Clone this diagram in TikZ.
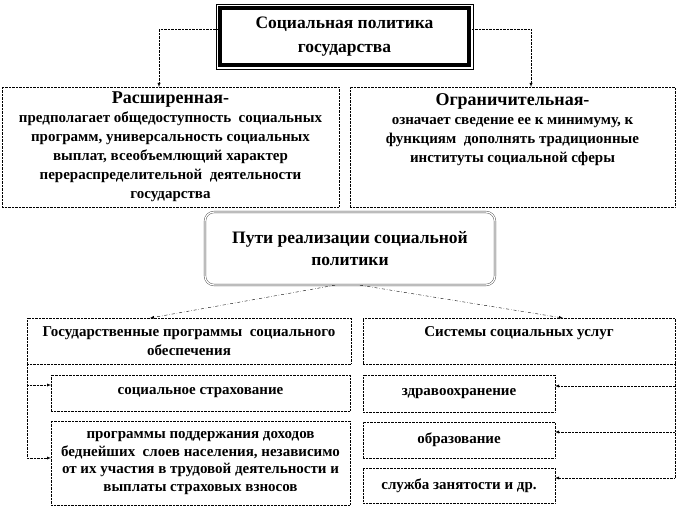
\documentclass[tikz,border=0pt]{standalone}
\usepackage{fontspec}
\setmainfont{Liberation Serif}
\usetikzlibrary{shapes,arrows,positioning,calc}

\tikzset{
  box/.style={draw, densely dotted, align=center, inner sep=2pt, outer sep=0pt,
    font=\bfseries\fontsize{15}{18.5}\selectfont},
  link/.style={densely dotted, -latex},
}

\begin{document}
\begin{tikzpicture}[x=1pt, y=-1pt]
  \useasboundingbox (0,0) rectangle (678,508);

  % State social policy
  \node[draw, line width=4pt, outer sep=0pt, align=center, minimum width=249pt, minimum height=57pt,
    font=\bfseries\fontsize{17.5}{24}\selectfont] (title) at (344.5,36.5)
    {Социальная политика\\государства};
  \draw[thin] ($(title.north west)+(-4pt,4pt)$) rectangle ($(title.south east)+(4pt,-4pt)$);

  % Two kinds
  \node[box, minimum width=337pt, minimum height=120pt, font=\bfseries\fontsize{15}{19}\selectfont]
    (wide) at (170.5,147)
    {{\fontsize{18}{20}\selectfont Расширенная-}\\
     предполагает общедоступность\ \ социальных\\
     программ, универсальность социальных\\
     выплат, всеобъемлющий характер\\
     перераспределительной\ \ деятельности\\
     государства};
  \node[box, minimum width=325pt, minimum height=120pt, font=\bfseries\fontsize{15}{19}\selectfont]
    (narrow) at (512.5,147)
    {{\fontsize{18}{20}\selectfont Ограничительная-}\\
     означает сведение ее к минимуму, к\\
     функциям\ \ дополнять традиционные\\
     институты социальной сферы\\[19pt]\mbox{}};

  \draw[link] ([yshift=7pt]title.west) -| ([xshift=-11.5pt]wide.north);
  \draw[link] ([yshift=7pt]title.east) -| ([xshift=18.5pt]narrow.north);

  % Ways of realisation
  \node[draw=black!75, double, double distance=1.3pt, rounded corners=9pt, align=center,
    minimum width=290pt, minimum height=73pt, font=\bfseries\fontsize{17.5}{22}\selectfont]
    (ways) at (350,248.5) {Пути реализации социальной\\политики};

  \node[box, minimum width=324pt, minimum height=46pt] (gov) at (189,341)
    {Государственные программы\ \ социального\\обеспечения};
  \node[box, minimum width=312pt, minimum height=46pt] (serv) at (519,341)
    {Системы социальных услуг\\\mbox{}};

  \draw[link, dash dot] ([xshift=-15pt]ways.south) -- ([xshift=-39pt]gov.north);
  \draw[link, dash dot] ([xshift=10pt]ways.south) -- ([xshift=44pt]serv.north);

  % Programmes
  \node[box, minimum width=299pt, minimum height=36pt] (ins) at (200.5,393) {социальное страхование};
  \node[box, minimum width=299pt, minimum height=84pt, font=\bfseries\fontsize{15}{17.5}\selectfont]
    (poor) at (200.5,463)
    {программы поддержания доходов\\
     беднейших\ \ слоев населения, независимо\\
     от их участия в трудовой деятельности и\\
     выплаты страховых взносов};

  \draw[link] (gov.south west) |- ([yshift=8pt]ins.west);
  \draw[link] (gov.south west) |- ([yshift=5pt]poor.west);

  % Services
  \node[box, minimum width=192pt, minimum height=37pt] (health) at (459,393.5) {здравоохранение};
  \node[box, minimum width=192pt, minimum height=36pt] (edu) at (459,440) {образование};
  \node[box, minimum width=192pt, minimum height=35pt] (job) at (459,485.5) {служба занятости и др.};

  \draw[link] (serv.south east) |- ([yshift=7.5pt]health.east);
  \draw[link] (serv.south east) |- ([yshift=8pt]edu.east);
  \draw[link] (serv.south east) |- ([yshift=7.5pt]job.east);
\end{tikzpicture}
\end{document}
